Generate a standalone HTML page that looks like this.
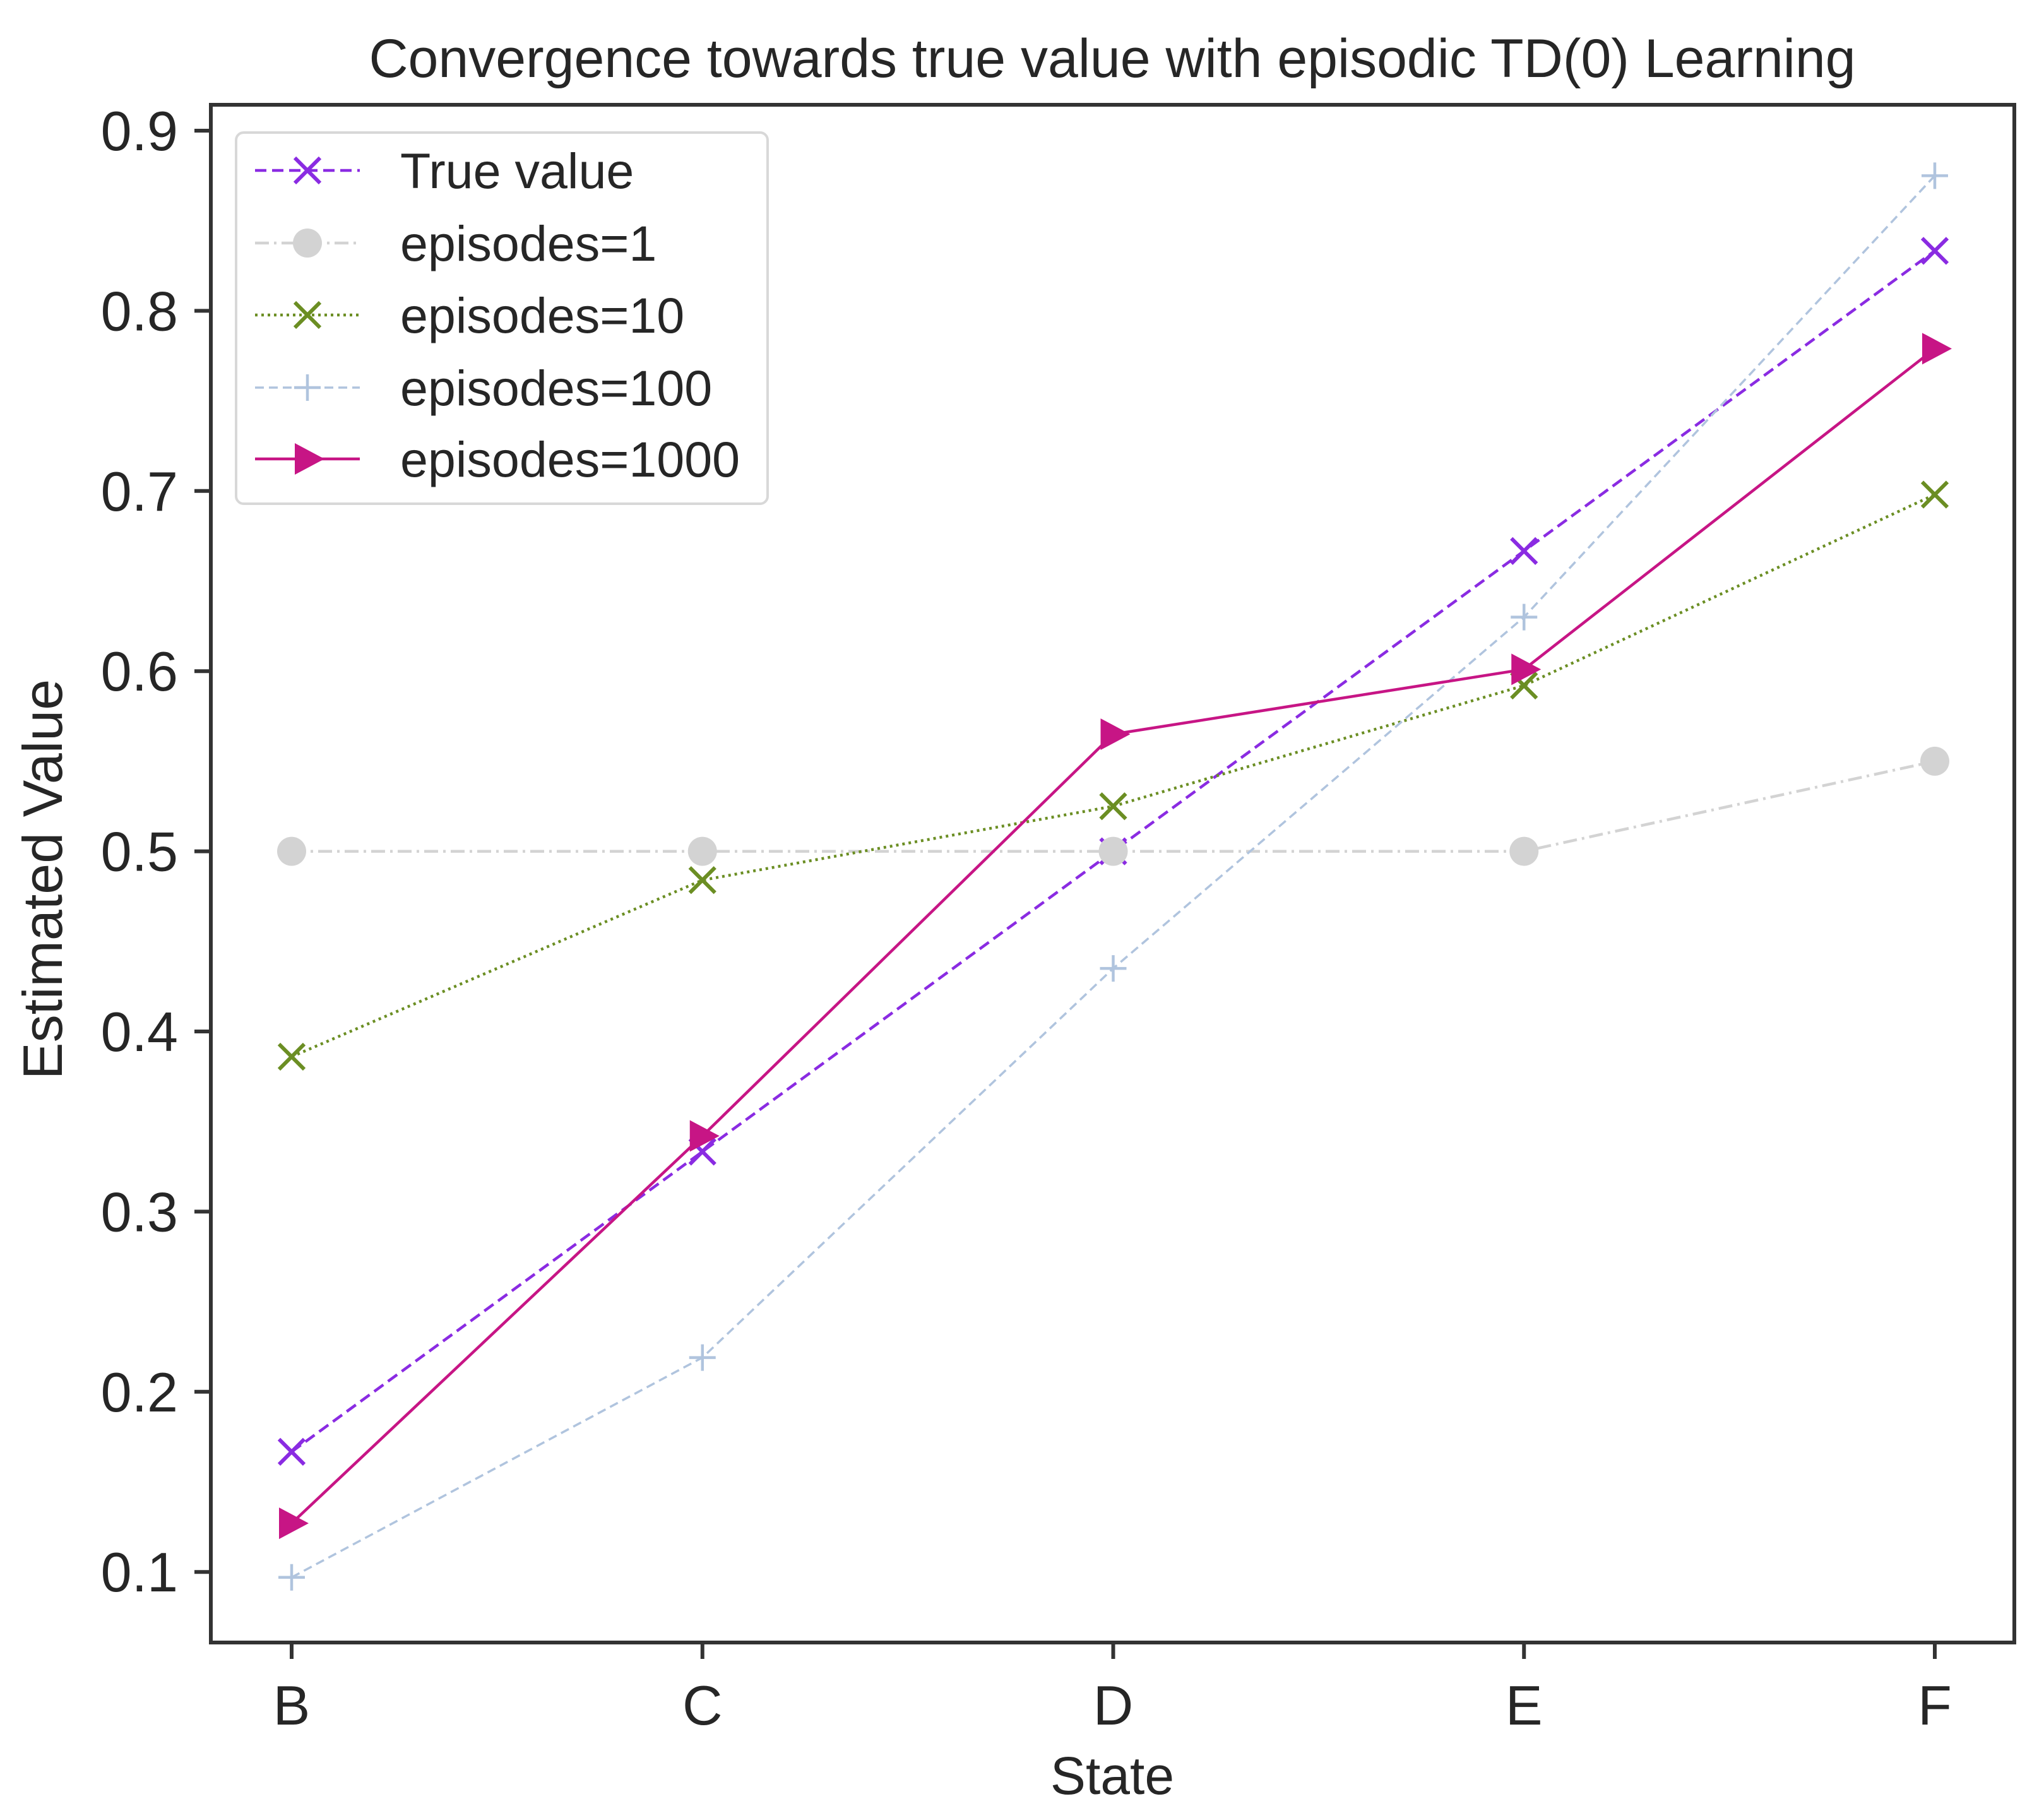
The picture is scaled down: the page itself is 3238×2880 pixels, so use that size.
<!DOCTYPE html>
<html><head><meta charset="utf-8"><style>
html,body{margin:0;padding:0;background:#fff;}
svg{display:block;font-family:"Liberation Sans",Arial,sans-serif;}
</style></head><body>
<svg id="chart" width="3238" height="2880" viewBox="0 0 3238 2880" xmlns="http://www.w3.org/2000/svg">
<rect width="3238" height="2880" fill="#fff"/>
<text x="1762" y="122" font-size="86" text-anchor="middle" fill="#262626">Convergence towards true value with episodic TD(0) Learning</text>
<g id="plot"></g>
<text x="1762" y="2842" font-size="84" text-anchor="middle" fill="#262626">State</text>
<text transform="translate(98,1393) rotate(-90)" font-size="88" text-anchor="middle" fill="#262626">Estimated Value</text>
</svg>
<script>
const categories = ["B","C","D","E","F"];
const yTicks = [0.1,0.2,0.3,0.4,0.5,0.6,0.7,0.8,0.9];
const yTickLabels = ["0.1","0.2","0.3","0.4","0.5","0.6","0.7","0.8","0.9"];
const trueValue = [0.1667,0.3333,0.5,0.6667,0.8333];
const episodes1 = [0.5,0.5,0.5,0.5,0.55];
const episodes10 = [0.386,0.484,0.525,0.592,0.698];
const episodes100 = [0.097,0.219,0.435,0.63,0.875];
const episodes1000 = [0.127,0.342,0.565,0.601,0.779];
const seriesNames = ["True value","episodes=1","episodes=10","episodes=100","episodes=1000"];

const NS="http://www.w3.org/2000/svg";
const L=334,R=3191,T=166,B=2602;
const xs=i=>462+i*650.75;
const ys=v=>207+(0.9-v)*2854;
const g=document.getElementById('plot');
function mk(tag,attrs,parent){const e=document.createElementNS(NS,tag);for(const k in attrs)e.setAttribute(k,attrs[k]);(parent||g).appendChild(e);return e;}

const styles=[
 {data:trueValue,color:"#8a2be2",dash:"18,9",w:4.5,marker:"x",key:"true-value"},
 {data:episodes1,color:"#d3d3d3",dash:"22,8,4,8",w:4.5,marker:"o",key:"episodes-1"},
 {data:episodes10,color:"#6b8e23",dash:"4,6",w:4.5,marker:"x",key:"episodes-10"},
 {data:episodes100,color:"#b0c4de",dash:"14,8",w:3.5,marker:"+",key:"episodes-100"},
 {data:episodes1000,color:"#c71585",dash:"",w:4.5,marker:">",key:"episodes-1000"}
];
function marker(type,x,y,color,parent){
 let e;
 if(type==="x"){e=mk('path',{d:`M${x-20},${y-20}L${x+20},${y+20}M${x-20},${y+20}L${x+20},${y-20}`,stroke:color,'stroke-width':6,fill:'none'},parent);}
 else if(type==="o"){e=mk('circle',{cx:x,cy:y,r:23,fill:color},parent);}
 else if(type==="+"){e=mk('path',{d:`M${x-21},${y}L${x+21},${y}M${x},${y-21}L${x},${y+21}`,stroke:color,'stroke-width':4.5,fill:'none'},parent);}
 else {e=mk('path',{d:`M${x-20},${y-25}L${x+27},${y}L${x-20},${y+25}Z`,fill:color},parent);}
 return e;
}
yTicks.forEach((v,i)=>{
 const t=mk('line',{x1:L-26,x2:L,y1:ys(v),y2:ys(v),stroke:'#333','stroke-width':6});
 
 
 const tx=mk('text',{x:L-52,y:ys(v)+31,'font-size':88,'text-anchor':'end',fill:'#262626'});
 tx.textContent=yTickLabels[i];
 
 
});
categories.forEach((c,i)=>{
 const t=mk('line',{x1:xs(i),x2:xs(i),y1:B,y2:B+26,stroke:'#333','stroke-width':6});
 
 
 const tx=mk('text',{x:xs(i),y:B+130,'font-size':88,'text-anchor':'middle',fill:'#262626'});
 tx.textContent=c;
 
 
});
styles.forEach(s=>{
 const sg=mk('g',{});
 
 
 const pts=s.data.map((v,i)=>xs(i)+','+ys(v)).join(' ');
 const a={points:pts,fill:'none',stroke:s.color,'stroke-width':s.w};
 if(s.dash)a['stroke-dasharray']=s.dash;
 const pl=mk('polyline',a,sg);
 
 
 s.data.forEach((v,i)=>{
  const m=marker(s.marker,xs(i),ys(v),s.color,sg);
  
  
 });
});
const sp=mk('rect',{x:L,y:T,width:R-L,height:B-T,fill:'none',stroke:'#333','stroke-width':6});


const lg=mk('g',{});


mk('rect',{x:374,y:210,width:842,height:588,rx:12,fill:'#fff','fill-opacity':0.85,stroke:'#d8d8d8','stroke-width':4},lg);
const ly=[270,385,499,614,727];
styles.forEach((s,i)=>{
 const eg=mk('g',{},lg);
 
 
 const a={x1:404,x2:570,y1:ly[i],y2:ly[i],stroke:s.color,'stroke-width':s.w};
 if(s.dash)a['stroke-dasharray']=s.dash;
 mk('line',a,eg);
 marker(s.marker,487,ly[i],s.color,eg);
 const t=mk('text',{x:634,y:ly[i]+28,'font-size':79,fill:'#262626'},eg);
 t.textContent=seriesNames[i];
});
</script>
</body></html>
